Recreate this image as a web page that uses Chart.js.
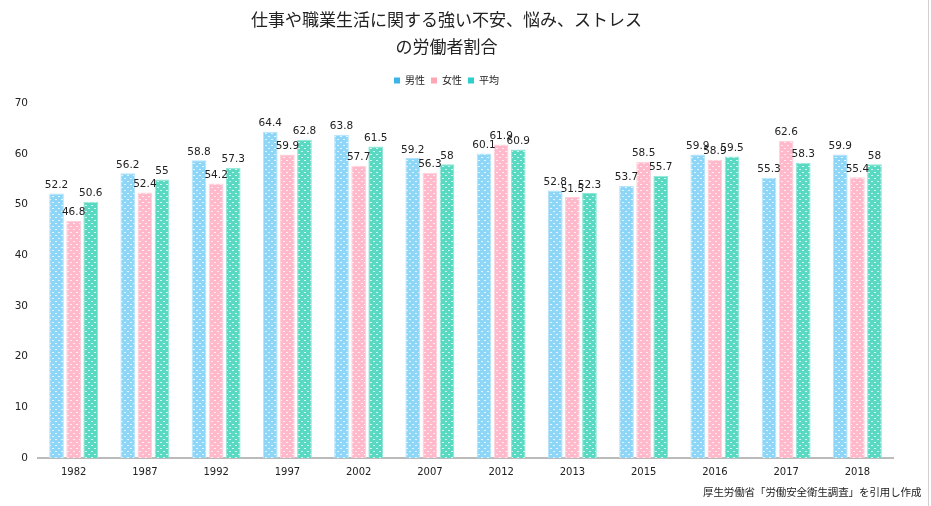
<!DOCTYPE html>
<html>
<head>
<meta charset="utf-8">
<script src="https://cdn.jsdelivr.net/npm/chart.js@4"></script>
<style>
  html, body { margin: 0; padding: 0; background: #fff; }
  #wrap { position: relative; width: 928px; height: 506px; border-right: 1px solid #d0d0d0; }
  #source { position: absolute; left: 703px; top: 484px; font: 10.5px "Noto Sans CJK JP", sans-serif; color: #222; white-space: nowrap; letter-spacing: -0.1px; }
</style>
</head>
<body>
<div id="wrap">
  <canvas id="chart" width="928" height="506"></canvas>
  <div id="source">厚生労働省「労働安全衛生調査」を引用し作成</div>
</div>
<script>
// survey years
const years = ["1982", "1987", "1992", "1997", "2002", "2007", "2012", "2013", "2015", "2016", "2017", "2018"];
// percentages
const male = [52.2, 56.2, 58.8, 64.4, 63.8, 59.2, 60.1, 52.8, 53.7, 59.9, 55.3, 59.9];
const female = [46.8, 52.4, 54.2, 59.9, 57.7, 56.3, 61.9, 51.5, 58.5, 58.9, 62.6, 55.4];
const average = [50.6, 55, 57.3, 62.8, 61.5, 58, 60.9, 52.3, 55.7, 59.5, 58.3, 58];
const yTicks = [0, 10, 20, 30, 40, 50, 60, 70];

// dotted fill like the original
function dotPattern(base) {
  const c = document.createElement("canvas");
  c.width = 6; c.height = 6;
  const g = c.getContext("2d");
  g.fillStyle = base;
  g.fillRect(0, 0, 6, 6);
  g.fillStyle = "rgba(255,255,255,0.75)";
  g.fillRect(1, 1, 2, 1);
  g.fillRect(4, 4, 2, 1);
  return g.createPattern(c, "repeat");
}

// value labels above bars
const valueLabels = {
  id: "valueLabels",
  afterDatasetsDraw(chart) {
    const ctx = chart.ctx;
    ctx.save();
    ctx.font = "10.5px 'DejaVu Sans', sans-serif";
    ctx.fillStyle = "#222";
    ctx.textAlign = "center";
    ctx.textBaseline = "bottom";
    chart.data.datasets.forEach((ds, i) => {
      chart.getDatasetMeta(i).data.forEach((bar, j) => {
        ctx.fillText(String(ds.data[j]), bar.x, bar.y - 3);
      });
    });
    ctx.restore();
  }
};

// extra space under the legend
const legendGap = {
  id: "legendGap",
  beforeInit(chart) {
    const fit = chart.legend.fit;
    chart.legend.fit = function () {
      fit.bind(chart.legend)();
      this.height += 8;
    };
  }
};

const ctx = document.getElementById("chart");
new Chart(ctx.getContext("2d"), {
  type: "bar",
  data: {
    labels: years,
    datasets: [
      { label: "男性", data: male, backgroundColor: dotPattern("#8ed6f8"), borderColor: "#b4e4fb", borderWidth: 1, legendColor: "#3bb4e8" },
      { label: "女性", data: female, backgroundColor: dotPattern("#ffb9cb"), borderColor: "#ffd0dc", borderWidth: 1, legendColor: "#ffa6b4" },
      { label: "平均", data: average, backgroundColor: dotPattern("#5ad9c2"), borderColor: "#8ee6d6", borderWidth: 1, legendColor: "#2ccfcc" }
    ]
  },
  options: {
    responsive: false,
    animation: false,
    categoryPercentage: 0.72,
    barPercentage: 0.86,
    layout: { padding: { left: 0, right: 35, top: 4, bottom: 28 } },
    plugins: {
      title: {
        display: true,
        text: ["仕事や職業生活に関する強い不安、悩み、ストレス", "の労働者割合"],
        color: "#222",
        font: { family: "'Noto Sans CJK JP'", size: 17, weight: "normal", lineHeight: 1.6 },
        padding: { top: 2, bottom: 9 }
      },
      legend: {
        position: "top",
        labels: {
          boxWidth: 6, boxHeight: 6, padding: 6,
          color: "#222",
          font: { family: "'Noto Sans CJK JP'", size: 10 },
          generateLabels(chart) {
            return chart.data.datasets.map((ds, i) => ({
              text: ds.label, fillStyle: ds.legendColor, strokeStyle: ds.legendColor,
              lineWidth: 0, datasetIndex: i, fontColor: "#222"
            }));
          }
        }
      },
      tooltip: { enabled: false }
    },
    scales: {
      x: {
        grid: { display: false },
        border: { color: "#bbb", width: 2 },
        ticks: { color: "#222", font: { family: "'DejaVu Sans'", size: 10 }, padding: 0 }
      },
      y: {
        min: 0, max: 70,
        afterBuildTicks(scale) { scale.ticks = yTicks.map(v => ({ value: v })); },
        afterFit(scale) { scale.width = 38; },
        grid: { display: false },
        border: { display: false },
        ticks: { color: "#222", font: { family: "'DejaVu Sans'", size: 10.5 }, padding: 2 }
      }
    }
  },
  plugins: [valueLabels, legendGap]
});
</script>
</body>
</html>
